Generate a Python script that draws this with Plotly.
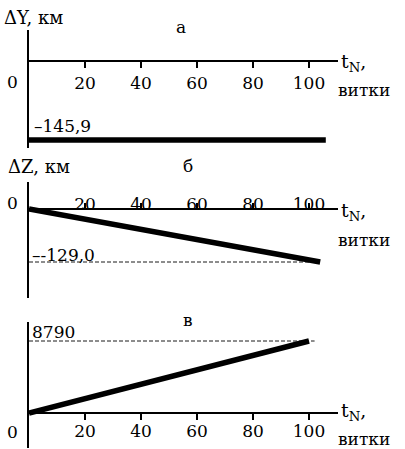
import plotly.graph_objects as go

# ---------------- data ----------------
turns_a = [0, 106]
dY_km = [-145.9, -145.9]
turns_b = [0, 104]
dZ_km = [0.0, -129.0]
turns_c = [0, 100]
dC_val = [0, 8790]
guide_b_x = [0, 100]
guide_b_y = [-129.0, -129.0]
guide_c_x = [0, 102]
guide_c_y = [8790, 8790]
tick_vals = [20, 40, 60, 80, 100]
tick_text = ["20", "40", "60", "80", "100"]
panel_letters = ["а", "б", "в"]
y_titles = ["ΔY, км", "ΔZ, км"]
value_labels = ["–145,9", "–-129,0", "8790"]
x_title = "t<sub>N</sub>,"
x_unit = "витки"

# ---------------- layout helpers ----------------
W, H = 405, 449
FONT = "DejaVu Serif"
FS = 17


def fx(px):
    return px / W


def fy(py):
    return 1 - py / H


X_L, X_R, X_SCALE = 29, 338, 2.8
x_range = [0, (X_R - X_L) / X_SCALE]

# top px, bottom px, zero px, reference value, reference px, label side, standoff
panels = [
    dict(top=30, bottom=148, zero=61, ref=dY_km[0], ref_px=140, side="bottom", so=1),
    dict(top=182, bottom=298, zero=209, ref=dZ_km[1], ref_px=262, side="top", so=-14),
    dict(top=322, bottom=448, zero=413, ref=dC_val[1], ref_px=341, side="bottom", so=-3),
]

fig = go.Figure()
layout = {}
for i, p in enumerate(panels, start=1):
    s = (p["zero"] - p["ref_px"]) / p["ref"]
    lo = (p["zero"] - p["bottom"]) / s
    hi = (p["zero"] - p["top"]) / s
    pos = fy(p["zero"])
    other = "top" if p["side"] == "bottom" else "bottom"
    layout[f"xaxis{i}"] = dict(
        domain=[fx(X_L), fx(X_R)], range=x_range, anchor="free", position=pos,
        side=p["side"], showline=True, linewidth=1.6, linecolor="black",
        ticks="outside", ticklen=6 if p["side"] == "bottom" else 5, tickwidth=1.6,
        tickcolor="black", tickvals=tick_vals, ticktext=tick_text,
        tickfont=dict(family=FONT, size=FS, color="black"),
        ticklabelstandoff=p["so"],
        showgrid=False, zeroline=False, fixedrange=True, automargin=False,
    )
    layout[f"xaxis{i+3}"] = dict(
        overlaying=f"x{i}", range=x_range, anchor="free", position=pos,
        side=other, showline=False, ticks="outside", ticklen=6, tickwidth=1.6,
        tickcolor="black", tickvals=tick_vals, showticklabels=False,
        showgrid=False, zeroline=False, fixedrange=True, automargin=False,
    )
    layout[f"yaxis{i}"] = dict(
        domain=[fy(p["bottom"]), fy(p["top"])], range=[lo, hi], anchor=f"x{i}",
        side="left", showline=True, linewidth=1.6, linecolor="black",
        ticks="", showticklabels=False, tickvals=[], showgrid=False,
        zeroline=False, fixedrange=True, automargin=False,
    )

thick = dict(color="black", width=5.5)
fig.add_trace(go.Scatter(x=turns_a, y=dY_km, mode="lines", line=thick,
                         xaxis="x1", yaxis="y1", showlegend=False))
fig.add_trace(go.Scatter(x=guide_b_x, y=guide_b_y, mode="lines",
                         line=dict(color="black", width=0.9, dash="4px,2px"),
                         xaxis="x2", yaxis="y2", showlegend=False))
fig.add_trace(go.Scatter(x=turns_b, y=dZ_km, mode="lines", line=thick,
                         xaxis="x2", yaxis="y2", showlegend=False))
fig.add_trace(go.Scatter(x=guide_c_x, y=guide_c_y, mode="lines",
                         line=dict(color="black", width=0.9, dash="4px,2px"),
                         xaxis="x3", yaxis="y3", showlegend=False))
fig.add_trace(go.Scatter(x=turns_c, y=dC_val, mode="lines", line=thick,
                         xaxis="x3", yaxis="y3", showlegend=False))

ann = []


def text(t, px, py, xanchor="left", size=FS):
    ann.append(dict(text=t, x=fx(px), y=fy(py), xref="paper", yref="paper",
                    xanchor=xanchor, yanchor="middle", showarrow=False,
                    font=dict(family=FONT, size=size, color="black")))


# axis titles and units
text(y_titles[0], 2, 18, size=18)
text(y_titles[1], 6, 166, size=18)
for p, dy_t, dy_u in zip(panels, (2, 2, -2), (29, 31, 26)):
    text(x_title, 339, p["zero"] + dy_t, size=19)
    text(x_unit, 336, p["zero"] + dy_u, size=17)
# origin zeros
text("0", 12, 82, "center")
text("0", 12, 203, "center")
text("0", 12, 432, "center")
# panel letters
text(panel_letters[0], 181, 27, "center")
text(panel_letters[1], 188, 166, "center")
text(panel_letters[2], 188, 320, "center")
# value labels
text(value_labels[0], 32, 126)
text(value_labels[1], 30, 255)
text(value_labels[2], 30, 332)

layout.update(
    width=W, height=H, margin=dict(l=0, r=0, t=0, b=0, autoexpand=False),
    paper_bgcolor="white", plot_bgcolor="white", annotations=ann,
    font=dict(family=FONT, size=FS, color="black"),
)
fig.update_layout(**layout)
fig.write_html("out.html", config={"displayModeBar": False},
               post_script="document.body.style.margin='0';")
